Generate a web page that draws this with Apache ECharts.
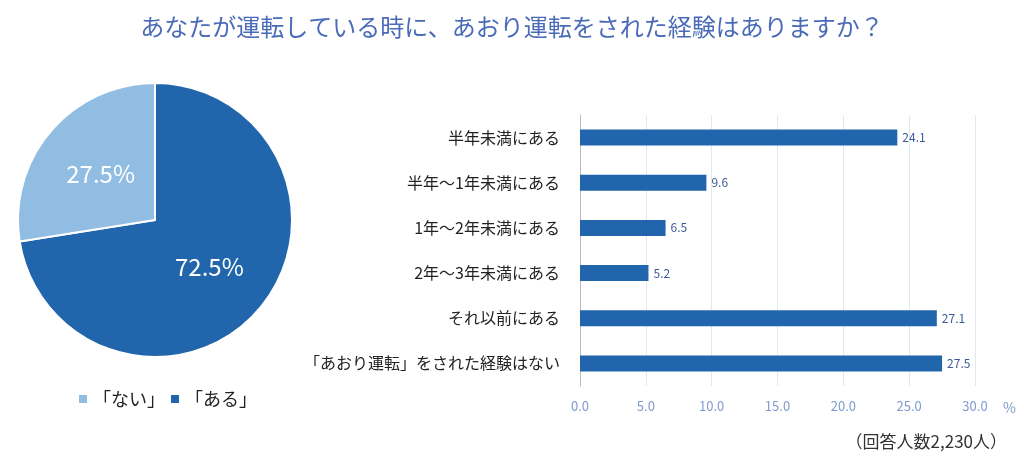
<!DOCTYPE html>
<html>
<head>
<meta charset="utf-8">
<script src="https://cdn.jsdelivr.net/npm/echarts@6/dist/echarts.min.js"></script>
</head>
<body style="margin:0">
<div id="main" style="width:1024px;height:464px;"></div>
<script>
var pieNames = ['「ある」', '「ない」'];
var pieValues = [72.5, 27.5];
var categories = ['半年未満にある', '半年～1年未満にある', '1年～2年未満にある', '2年～3年未満にある', 'それ以前にある', '「あおり運転」をされた経験はない'];
var barValues = [24.1, 9.6, 6.5, 5.2, 27.1, 27.5];

var font = '"Noto Sans CJK JP", sans-serif';
var chart = echarts.init(document.getElementById('main'));
chart.setOption({
    textStyle: {fontFamily: font},
    title: [
        {text: 'あなたが運転している時に、あおり運転をされた経験はありますか？', left: 'center', top: 10,
         textStyle: {color: '#4a6bb8', fontSize: 24, fontWeight: 'normal', fontFamily: font}},
        {text: '（回答人数2,230人）', right: 12, top: 428,
         textStyle: {color: '#333', fontSize: 17, fontWeight: 'normal', fontFamily: font}},
        {text: '%', left: 998, top: 396,
         textStyle: {color: '#7f9bd0', fontSize: 14, fontWeight: 'normal'}}
    ],
    legend: {
        data: ['「ない」', '「ある」'], left: 72, top: 385, itemWidth: 10, itemHeight: 10, itemGap: 4,
        icon: 'rect', textStyle: {fontSize: 18, color: '#222', fontFamily: font}
    },
    grid: {left: 580, right: 49, top: 115, bottom: 78},
    xAxis: {
        type: 'value', min: 0, max: 30, interval: 5,
        axisLabel: {formatter: function (v) { return v.toFixed(1); }, color: '#7f9bd0', fontSize: 13, margin: 14},
        splitLine: {lineStyle: {color: '#e3e8f0'}}
    },
    yAxis: {
        type: 'category', data: categories, inverse: true,
        axisLine: {lineStyle: {color: '#bbb'}}, axisTick: {show: false},
        axisLabel: {color: '#222', fontSize: 16, margin: 20}
    },
    series: [
        {
            type: 'bar', data: barValues, barWidth: 16, itemStyle: {color: '#2166ac'},
            label: {show: true, position: 'right', color: '#3c5a9a', fontSize: 12, formatter: function (p) { return p.value.toFixed(1); }}
        },
        {
            type: 'pie', center: [155, 220], radius: 137, startAngle: 90,
            data: [
                {name: pieNames[0], value: pieValues[0], itemStyle: {color: '#2166ac'}},
                {name: pieNames[1], value: pieValues[1], itemStyle: {color: '#91bde2'}}
            ],
            itemStyle: {borderColor: '#fff', borderWidth: 2},
            label: {position: 'inside', color: '#fff', fontSize: 24, formatter: function (p) { return p.value.toFixed(1) + '%'; }},
            labelLine: {show: false}
        }
    ]
});
</script>
</body>
</html>
